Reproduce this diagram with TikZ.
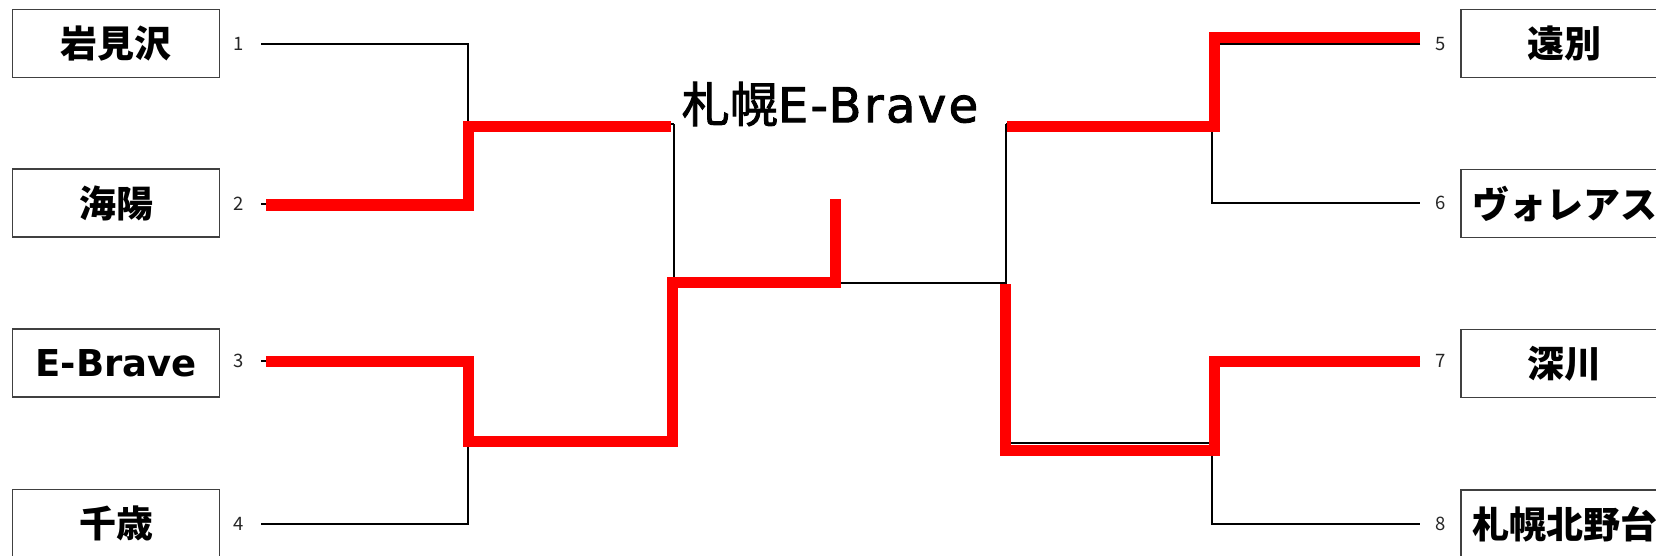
\documentclass[tikz,border=0pt]{standalone}
\usepackage{fontspec}
\setmainfont{Noto Sans CJK JP}
\newfontfamily\latin{DejaVu Sans}
\newfontfamily\titlecjk[FakeBold=2]{Noto Sans CJK JP}
\newfontfamily\titlelatin[LetterSpace=5,FakeBold=2]{DejaVu Sans}
\definecolor{boxgray}{HTML}{404040}
\definecolor{winred}{HTML}{FF0000}
\begin{document}
\begin{tikzpicture}[x=1pt,y=-1pt,
  team/.style={draw=boxgray, line width=1.5pt, minimum width=207pt, minimum height=68pt, inner sep=0pt, font=\fontsize{37}{40}\selectfont\bfseries},
  num/.style={inner sep=0pt, text=black!85, font=\fontsize{18.5}{19}\selectfont},
  br/.style={line width=2pt, black},
  win/.style={line width=11pt, winred, line join=miter, line cap=butt}]
\useasboundingbox (0,0) rectangle (1656,556);
\clip (0,0) rectangle (1656,556);

% team boxes
\node[team] (t1) at (116.2,43.7) {岩見沢};
\node[team] (t2) at (116.2,203) {海陽};
\node[team] (t3) at (116.2,363) {{\latin\bfseries E-Brave}};
\node[team] (t4) at (116.2,523.5) {千歳};
\node[team] (t5) at (1564.5,43.5) {遠別};
\node[team] (t6) at (1564.5,203.5) {ヴォレアス};
\node[team] (t7) at (1564.5,363.5) {深川};
\node[team] (t8) at (1564.5,524) {札幌北野台};

% seed numbers
\node[num] (n1) at (239,44) {1};
\node[num] (n2) at (239,204) {2};
\node[num] (n3) at (239,361) {3};
\node[num] (n4) at (239,524) {4};
\node[num] (n5) at (1441,44) {5};
\node[num] (n6) at (1441,203) {6};
\node[num] (n7) at (1441,361) {7};
\node[num] (n8) at (1441,524) {8};

% title
\node[inner sep=0pt] (title) at (830,104) {\fontsize{48}{50}\selectfont{\titlecjk 札幌}{\titlelatin E-Brave}};

% bracket coordinates
\coordinate (a1) at (261,44);
\coordinate (a2) at (261,204);
\coordinate (a3) at (261,361);
\coordinate (a4) at (261,524);
\coordinate (a5) at (1420,44);
\coordinate (a6) at (1420,203);
\coordinate (a7) at (1420,361);
\coordinate (a8) at (1420,524);
\coordinate (q1) at (468,124);
\coordinate (q2) at (468,443);
\coordinate (q3) at (1212,124);
\coordinate (q4) at (1212,443);
\coordinate (s1) at (674,283);
\coordinate (s2) at (1006,283);
\coordinate (f) at (840,283);
\coordinate (ft) at (840,204);

% black bracket
\draw[br] (a1) -| (a2 -| q1) -- (a2);
\draw[br] (q1) -- (q1 -| s1);
\draw[br] (a3) -| (a4 -| q2) -- (a4);
\draw[br] (q2) -- (q2 -| s1);
\draw[br] (q1 -| s1) -- (q2 -| s1);
\draw[br] (s1) -- (f) -- (s2);
\draw[br] (f) -- (ft);
\draw[br] (a5) -| (a6 -| q3) -- (a6);
\draw[br] (q3) -- (q3 -| s2);
\draw[br] (a7) -| (a8 -| q4) -- (a8);
\draw[br] (q4) -- (q4 -| s2);
\draw[br] (q3 -| s2) -- (q4 -| s2);

% winners' path (red)
\coordinate (r2) at (266,205);
\coordinate (r2j) at (468.5,127);
\coordinate (r2e) at (671,127);
\draw[win] (r2) -| (r2j) -- (r2e);
\coordinate (r3) at (266,361);
\coordinate (r3j) at (468.5,441);
\coordinate (r3s) at (672,282.5);
\coordinate (rft) at (835,199);
\draw[win] (r3) -| (r3j) -| (r3s) -| (rft);
\coordinate (r5) at (1420,38);
\coordinate (r5j) at (1214,127);
\coordinate (r5e) at (1007,127);
\draw[win] (r5e) -- (r5j) |- (r5);
\coordinate (r7) at (1420,361);
\coordinate (r7j) at (1214,450);
\coordinate (r7s) at (1005.5,284);
\draw[win] (r7s) |- (r7j) |- (r7);
\end{tikzpicture}
\end{document}
